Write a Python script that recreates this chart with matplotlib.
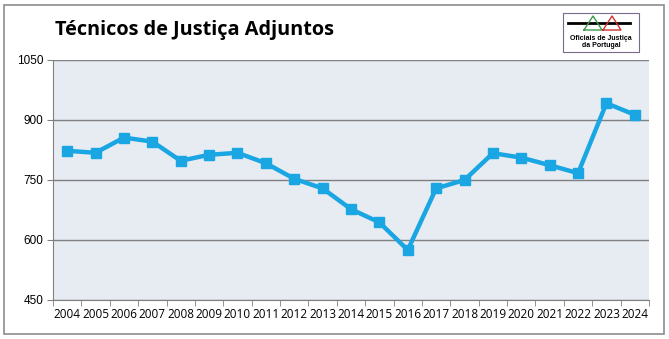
import matplotlib.pyplot as plt
from matplotlib.patches import Rectangle
import numpy as np

years = [str(y) for y in range(2004, 2025)]
values = [823, 818, 856, 846, 798, 813, 818, 792, 753, 729, 677,
          644, 575, 729, 750, 817, 806, 787, 767, 942, 913]
y_ticks = [450, 600, 750, 900, 1050]

W, H = 669, 339
fig = plt.figure(figsize=(W / 100, H / 100), dpi=100)
fig.patch.set_facecolor('white')

# outer frame
fig.patches.append(Rectangle((4 / W, 5 / H), 660 / W, 329 / H, transform=fig.transFigure,
                             fill=False, edgecolor='#8c8c8c', linewidth=1.2))

ax = fig.add_axes([53 / W, (H - 300) / H, (649 - 53) / W, 240 / H])
ax.set_facecolor('#e7ecf3')

x = np.arange(len(years))
ax.plot(x, values, color='#1aa6e2', linewidth=3.2, marker='s', markersize=7,
        markerfacecolor='#1aa6e2', markeredgecolor='#1aa6e2', zorder=3)

ax.set_xlim(-0.5, len(years) - 0.5)
ax.set_ylim(450, 1050)
ax.set_yticks(y_ticks)
ax.set_yticklabels([str(v) for v in y_ticks], fontsize=8.5, family='Liberation Sans')
ax.yaxis.grid(True, color='#808080', linewidth=1)
ax.set_axisbelow(True)

ax.set_xticks(x)
ax.set_xticklabels(years, fontsize=8.5, family='Open Sans')
ax.set_xticks(np.arange(-0.5, len(years)), minor=True)
ax.tick_params(axis='x', which='major', length=0, pad=6)
ax.tick_params(axis='x', which='minor', length=4, color='#808080')
ax.tick_params(axis='y', length=4, color='#808080', pad=3)

for s in ['top', 'right']:
    ax.spines[s].set_visible(False)
for s in ['left', 'bottom']:
    ax.spines[s].set_color('#808080')

fig.text(55 / W, 1 - 30 / H, 'Técnicos de Justiça Adjuntos', fontsize=14.3,
         fontweight='bold', family='Open Sans', va='center', ha='left')

# logo box
fig.patches.append(Rectangle((563 / W, 1 - 52 / H), 76 / W, 39 / H, transform=fig.transFigure,
                             fill=False, edgecolor='#7a6a8a', linewidth=0.8))
fig.lines.append(plt.Line2D([568 / W, 630 / W], [1 - 23 / H, 1 - 23 / H], transform=fig.transFigure,
                            color='black', linewidth=2))
fig.lines.append(plt.Line2D([584 / W, 593 / W, 602 / W, 584 / W], [1 - 30 / H, 1 - 16 / H, 1 - 30 / H, 1 - 30 / H],
                            transform=fig.transFigure, color='#3a9a4a', linewidth=1))
fig.lines.append(plt.Line2D([603 / W, 612 / W, 621 / W, 603 / W], [1 - 30 / H, 1 - 16 / H, 1 - 30 / H, 1 - 30 / H],
                            transform=fig.transFigure, color='#d03030', linewidth=1))
fig.text(601 / W, 1 - 42 / H, 'Oficiais de Justiça\nda Portugal', fontsize=5,
         family='Liberation Sans', fontweight='bold', ha='center', va='center', linespacing=1.1)

fig.savefig('out.png', dpi=100)
